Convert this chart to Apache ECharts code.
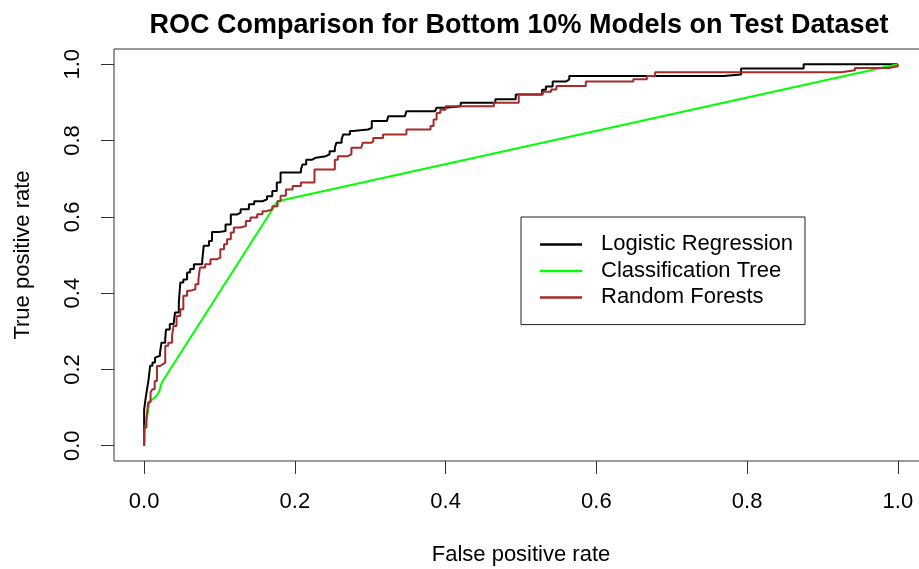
<!DOCTYPE html>
<html>
<head>
<meta charset="utf-8">
<script src="https://cdn.jsdelivr.net/npm/echarts@6/dist/echarts.min.js"></script>
<style>
html,body{margin:0;padding:0;background:#fff;}
#chart{width:919px;height:569px;}
</style>
</head>
<body>
<div id="chart"></div>
<script>
var chartTitle = 'ROC Comparison for Bottom 10% Models on Test Dataset';
var xAxisName = 'False positive rate';
var yAxisName = 'True positive rate';
var seriesNames = ['Logistic Regression', 'Classification Tree', 'Random Forests'];
var tickValues = [0, 0.2, 0.4, 0.6, 0.8, 1.0];

// [false positive rate, true positive rate] — staircase corners
var logisticPoints = [
  [0,0],[0,0.095],[0.002,0.125],[0.004,0.15],[0.006,0.175],[0.008,0.21],[0.011,0.218],
  [0.0145,0.231],[0.017,0.236],[0.021,0.244],[0.023,0.27],[0.028,0.28],[0.029,0.305],
  [0.034,0.319],[0.039,0.323],[0.041,0.349],[0.046,0.375],[0.048,0.428],[0.052,0.436],
  [0.057,0.454],[0.061,0.463],[0.066,0.476],[0.077,0.484],[0.079,0.524],[0.086,0.537],
  [0.090,0.560],[0.099,0.563],[0.108,0.580],[0.115,0.606],[0.123,0.611],[0.128,0.620],
  [0.139,0.633],[0.146,0.641],[0.157,0.646],[0.163,0.654],[0.170,0.668],[0.176,0.690],
  [0.181,0.716],[0.208,0.724],[0.210,0.737],[0.215,0.750],[0.223,0.755],[0.228,0.759],
  [0.241,0.764],[0.246,0.772],[0.253,0.781],[0.255,0.794],[0.262,0.803],[0.264,0.816],
  [0.273,0.825],[0.277,0.829],[0.297,0.833],[0.302,0.851],[0.322,0.855],[0.324,0.864],
  [0.346,0.868],[0.348,0.877],[0.386,0.881],[0.388,0.886],[0.400,0.890],[0.420,0.899],
  [0.466,0.908],[0.493,0.921],[0.528,0.933],[0.533,0.942],[0.542,0.955],[0.560,0.960],
  [0.564,0.969],[0.769,0.973],[0.792,0.989],[0.875,1.0],[1.0,1.0]
];
var treePoints = [
  [0,0],[0.001,0.04],[0.007,0.116],[0.012,0.123],[0.016,0.129],[0.020,0.142],
  [0.023,0.164],[0.027,0.177],[0.177,0.641],[1,1]
];
var forestPoints = [
  [0,0],[0,0.048],[0.003,0.07],[0.0054,0.114],[0.0085,0.14],[0.011,0.148],[0.014,0.17],
  [0.017,0.209],[0.021,0.214],[0.025,0.218],[0.028,0.262],[0.032,0.27],[0.037,0.288],
  [0.039,0.314],[0.043,0.34],[0.048,0.358],[0.052,0.393],[0.057,0.406],[0.061,0.41],
  [0.068,0.423],[0.072,0.436],[0.074,0.467],[0.081,0.476],[0.088,0.489],[0.097,0.493],
  [0.101,0.515],[0.106,0.528],[0.110,0.541],[0.115,0.559],[0.119,0.572],[0.128,0.576],
  [0.135,0.589],[0.141,0.598],[0.150,0.607],[0.157,0.615],[0.163,0.620],[0.170,0.628],
  [0.177,0.641],[0.181,0.655],[0.188,0.672],[0.197,0.681],[0.208,0.690],[0.226,0.724],
  [0.253,0.750],[0.257,0.759],[0.270,0.764],[0.275,0.781],[0.288,0.785],[0.290,0.794],
  [0.301,0.798],[0.304,0.807],[0.317,0.816],[0.348,0.829],[0.380,0.838],[0.384,0.855],
  [0.388,0.872],[0.393,0.881],[0.400,0.890],[0.464,0.899],[0.497,0.921],[0.529,0.928],
  [0.540,0.934],[0.547,0.943],[0.586,0.955],[0.649,0.961],[0.667,0.969],[0.678,0.979],
  [0.925,0.984],[0.943,0.990],[0.988,0.995],[1.0,1.0]
];

var FONT = '"Liberation Sans", Arial, sans-serif';
var chart = echarts.init(document.getElementById('chart'), null, {renderer: 'canvas'});

function axisCommon(isY) {
  return {
    type: 'value',
    min: -0.04,
    max: 1.04,
    axisLine: {show: false, onZero: false},
    splitLine: {show: false},
    axisTick: {show: true, length: 13, customValues: tickValues, lineStyle: {color: '#333', width: 1}},
    axisLabel: {
      show: true, customValues: tickValues, margin: 30, fontSize: 22, color: '#000',
      fontFamily: FONT, rotate: isY ? 90 : 0,
      formatter: function (v) { return v.toFixed(1); }
    },
    nameLocation: 'middle',
    nameTextStyle: {fontSize: 22, color: '#000', fontFamily: FONT}
  };
}

var xAxis = axisCommon(false);
xAxis.name = xAxisName;
xAxis.nameGap = 83;
var yAxis = axisCommon(true);
yAxis.name = yAxisName;
yAxis.nameGap = 80;
yAxis.nameRotate = 90;

chart.setOption({
  animation: false,
  backgroundColor: '#fff',
  title: {
    text: chartTitle,
    left: 519,
    textAlign: 'center',
    top: 12,
    padding: 0,
    textStyle: {fontSize: 27, fontWeight: 'bold', color: '#000', fontFamily: FONT}
  },
  grid: {
    left: 114, top: 49, width: 814, height: 412,
    outerBoundsMode: 'none', containLabel: false,
    show: true, borderColor: '#333', borderWidth: 1, backgroundColor: 'transparent'
  },
  legend: {
    orient: 'vertical',
    left: 521, top: 217,
    padding: [16.4, 12, 16.2, 19],
    itemWidth: 42, itemHeight: 2.5, itemGap: 4.5,
    icon: 'rect',
    borderColor: '#222', borderWidth: 1, borderRadius: 0,
    backgroundColor: '#fff',
    textStyle: {fontSize: 22, color: '#000', fontFamily: FONT, padding: [0, 0, 0, 14]},
    data: seriesNames
  },
  xAxis: xAxis,
  yAxis: yAxis,
  series: [
    {name: seriesNames[0], type: 'line', data: logisticPoints, step: 'end', symbol: 'none',
     lineStyle: {color: '#000000', width: 2}, itemStyle: {color: '#000000'}},
    {name: seriesNames[1], type: 'line', data: treePoints, symbol: 'none',
     lineStyle: {color: '#00FF00', width: 2}, itemStyle: {color: '#00FF00'}},
    {name: seriesNames[2], type: 'line', data: forestPoints, step: 'end', symbol: 'none',
     lineStyle: {color: '#A52A2A', width: 2}, itemStyle: {color: '#A52A2A'}}
  ]
});
</script>
</body>
</html>
